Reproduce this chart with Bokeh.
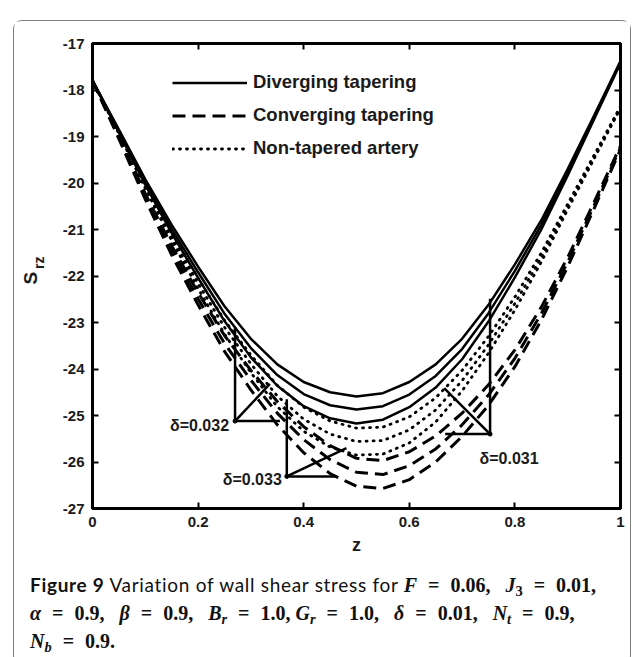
import math

from bokeh.plotting import figure
from bokeh.models import (FixedTicker, LinearAxis, Legend, LegendItem,
                          Div, Range1d, ColumnDataSource)
from bokeh.layouts import column, row
from bokeh.embed import file_html
from bokeh.resources import INLINE
from bokeh.core.properties import value

# ---- data -------------------------------------------------------------
z_vals = [0.0, 0.05, 0.1, 0.15, 0.2, 0.25, 0.3, 0.35, 0.4, 0.45, 0.5,
          0.55, 0.6, 0.65, 0.7, 0.75, 0.8, 0.85, 0.9, 0.95, 1.0]

# diverging tapering (solid)
div_031 = [-17.80, -18.85, -19.92, -20.90, -21.80, -22.65, -23.35, -23.90, -24.28, -24.50, -24.59,
           -24.52, -24.28, -23.90, -23.35, -22.62, -21.75, -20.80, -19.70, -18.55, -17.38]
div_032 = [-17.80, -18.88, -19.98, -20.99, -21.92, -22.81, -23.55, -24.13, -24.54, -24.78, -24.87,
           -24.80, -24.55, -24.15, -23.57, -22.80, -21.89, -20.90, -19.77, -18.59, -17.40]
div_033 = [-17.80, -18.91, -20.04, -21.08, -22.04, -22.97, -23.75, -24.36, -24.80, -25.06, -25.17,
           -25.09, -24.82, -24.40, -23.79, -22.98, -22.03, -21.00, -19.84, -18.63, -17.42]

# non-tapered artery (dotted)
non_031 = [-17.80, -18.90, -20.02, -21.08, -22.05, -22.95, -23.70, -24.35, -24.82, -25.12, -25.27,
           -25.25, -25.03, -24.62, -24.03, -23.30, -22.45, -21.50, -20.45, -19.40, -18.35]
non_032 = [-17.80, -18.92, -20.07, -21.16, -22.16, -23.10, -23.89, -24.58, -25.08, -25.40, -25.56,
           -25.54, -25.31, -24.88, -24.25, -23.48, -22.59, -21.60, -20.51, -19.44, -18.37]
non_033 = [-17.80, -18.94, -20.12, -21.24, -22.27, -23.25, -24.08, -24.81, -25.34, -25.68, -25.85,
           -25.83, -25.59, -25.14, -24.47, -23.66, -22.73, -21.70, -20.57, -19.48, -18.39]

# converging tapering (dashed)
con_031 = [-17.80, -18.99, -20.23, -21.35, -22.36, -23.28, -24.03, -24.70, -25.24, -25.65, -25.92,
           -25.97, -25.78, -25.44, -24.95, -24.34, -23.59, -22.67, -21.60, -20.41, -19.20]
con_032 = [-17.80, -19.02, -20.29, -21.45, -22.49, -23.45, -24.24, -24.95, -25.52, -25.95, -26.22,
           -26.27, -26.08, -25.72, -25.20, -24.56, -23.77, -22.81, -21.70, -20.48, -19.24]
con_033 = [-17.80, -19.05, -20.35, -21.55, -22.62, -23.62, -24.45, -25.20, -25.80, -26.25, -26.52,
           -26.57, -26.38, -26.00, -25.45, -24.78, -23.95, -22.95, -21.80, -20.55, -19.28]

series_names = ["Diverging tapering", "Converging tapering", "Non-tapered artery"]

x_ticks = [0, 0.2, 0.4, 0.6, 0.8, 1]
x_tick_labels = ["0", "0.2", "0.4", "0.6", "0.8", "1"]
y_ticks = [-27, -26, -25, -24, -23, -22, -21, -20, -19, -18, -17]
y_tick_labels = ["-27", "-26", "-25", "-24", "-23", "-22", "-21", "-20", "-19", "-18", "-17"]

# delta call-outs: anchor point, end on solid band, end on dotted band, end on dashed band
delta_text = ["δ=0.031", "δ=0.032", "δ=0.033"]
anchor_z = [0.753, 0.270, 0.368]
anchor_s = [-25.40, -25.12, -26.31]
solid_end_s = [-22.49, -23.11, -24.65]
dotted_end_z = [0.666, 0.336, 0.481]
dotted_end_s = [-24.41, -24.32, -25.70]
dashed_end_z = [0.668, 0.355, 0.462]

FONT = "Liberation Sans"
INK = "#1a1a1a"

# ---- y-axis title strip (S with subscript rz, rotated) ----------------
STRIP_W = 36
ylab = figure(width=STRIP_W, height=545, x_range=Range1d(0, STRIP_W), y_range=Range1d(0, 545),
              output_backend="svg", toolbar_location=None, title=None,
              x_axis_type=None, y_axis_type=None, min_border=0)
ylab.grid.visible = False
ylab.outline_line_color = None
ylab.text(x=[16], y=[270], text=["S"], angle=math.pi / 2, text_align="center",
          text_baseline="middle", text_font=value(FONT), text_font_style="bold",
          text_font_size="19px", text_color=INK)
ylab.text(x=[24], y=[288], text=["rz"], angle=math.pi / 2, text_align="center",
          text_baseline="middle", text_font=value(FONT), text_font_style="bold",
          text_font_size="14px", text_color=INK)

# ---- main figure ------------------------------------------------------
p = figure(width=616 - STRIP_W, height=545, x_range=Range1d(0, 1), y_range=Range1d(-27, -17),
           output_backend="svg", toolbar_location=None,
           min_border_left=78 - STRIP_W, min_border_right=10, min_border_top=22,
           min_border_bottom=58)
p.grid.visible = False
p.outline_line_color = "black"
p.outline_line_width = 3
p.background_fill_color = "white"
p.border_fill_color = "white"


def style_axis(ax, labels_on):
    ax.axis_line_width = 3
    ax.axis_line_color = "black"
    ax.major_tick_in = 6
    ax.major_tick_out = 0
    ax.major_tick_line_width = 2
    ax.minor_tick_line_color = None
    ax.major_label_text_font = FONT
    ax.major_label_text_font_style = "bold"
    ax.major_label_text_font_size = "15px" if labels_on else "1px"
    ax.major_label_text_color = INK
    ax.major_label_standoff = 8


p.xaxis.ticker = FixedTicker(ticks=x_ticks)
p.xaxis.major_label_overrides = dict(zip(x_ticks, x_tick_labels))
p.yaxis.ticker = FixedTicker(ticks=y_ticks)
p.yaxis.major_label_overrides = {t: l for t, l in zip(y_ticks, y_tick_labels)}
style_axis(p.xaxis[0], True)
style_axis(p.yaxis[0], True)
p.xaxis.axis_label = "z"
p.xaxis.axis_label_text_font = FONT
p.xaxis.axis_label_text_font_style = "bold"
p.xaxis.axis_label_text_font_size = "18px"
p.xaxis.axis_label_text_color = INK
p.xaxis.axis_label_standoff = 5

top_ax = LinearAxis(ticker=FixedTicker(ticks=x_ticks),
                    major_label_overrides={t: "" for t in x_ticks})
right_ax = LinearAxis(ticker=FixedTicker(ticks=y_ticks),
                      major_label_overrides={t: "" for t in y_ticks})
style_axis(top_ax, False)
style_axis(right_ax, False)
p.add_layout(top_ax, "above")
p.add_layout(right_ax, "right")

# curves
solid = [p.line(z_vals, s, line_color="black", line_width=2.5)
         for s in (div_031, div_032, div_033)]
dotted = [p.line(z_vals, s, line_color="black", line_width=2.8, line_dash="1 6",
                 line_cap="round") for s in (non_031, non_032, non_033)]
dashed = [p.line(z_vals, s, line_color="black", line_width=3, line_dash="13 7")
          for s in (con_031, con_032, con_033)]

# call-out pointers
ptr = dict(line_color="black", line_width=2.5)
p.segment(x0=anchor_z, y0=anchor_s, x1=anchor_z, y1=solid_end_s, **ptr)
p.segment(x0=anchor_z, y0=anchor_s, x1=dotted_end_z, y1=dotted_end_s, **ptr)
p.segment(x0=anchor_z, y0=anchor_s, x1=dashed_end_z, y1=anchor_s, **ptr)
p.scatter(anchor_z, anchor_s, size=4, color="black")

lbl_src = ColumnDataSource(dict(x=anchor_z, y=anchor_s, t=delta_text,
                                align=["center", "right", "right"],
                                dx=[19, -6, -5], dy=[24, 4, 3]))
p.text(x="x", y="y", text="t", source=lbl_src, text_align="align", text_baseline="middle",
       x_offset="dx", y_offset="dy", text_font=value(FONT), text_font_style="bold",
       text_font_size="16px", text_color=INK)

legend = Legend(items=[LegendItem(label=series_names[0], renderers=[solid[0]]),
                       LegendItem(label=series_names[1], renderers=[dashed[0]]),
                       LegendItem(label=series_names[2], renderers=[dotted[0]])],
                location=(80, 349), glyph_width=75, glyph_height=21, label_height=21,
                label_width=170, spacing=11, padding=0, margin=0, label_standoff=6,
                border_line_color=None, background_fill_alpha=0,
                label_text_font=FONT, label_text_font_style="bold",
                label_text_font_size="18.5px", label_text_color=INK)
p.add_layout(legend)

# ---- caption ----------------------------------------------------------
sub = '<span style="font-size:0.72em;vertical-align:-0.28em;line-height:0">{}</span>'
eq = '<span style="margin:0 11px">=</span>'
m_open = '<span style="font-family:\'Liberation Serif\';font-weight:bold;font-size:20px;letter-spacing:0">'
m_close = '</span>'
gap = "&nbsp;&nbsp;&nbsp;"


def var(s):
    return "<i>" + s + "</i>"


line1 = ('<b>Figure 9</b> Variation of wall shear stress for ' + m_open +
         var("F") + eq + "0.06," + gap + var("J") + sub.format("3") + eq + "0.01," + m_close)
line2 = (m_open + var("α") + eq + "0.9," + gap + var("β") + eq + "0.9," + gap +
         var("B" + sub.format("r")) + eq + "1.0, " + var("G" + sub.format("r")) + eq + "1.0," + gap +
         var("δ") + eq + "0.01," + gap + var("N" + sub.format("t")) + eq + "0.9," + m_close)
line3 = m_open + var("N" + sub.format("b")) + eq + "0.9." + m_close

cap = Div(text=line1 + "<br>" + line2 + "<br>" + line3, width=600, height=88,
          styles={"font-family": "Lato", "font-size": "19px", "line-height": "27px",
                  "letter-spacing": "0.7px", "white-space": "nowrap", "color": "#111111",
                  "padding-left": "11px", "padding-top": "0px"})

page = column(row(ylab, p), cap, margin=(20, 0, 0, 13),
              styles={"border": "1.5px solid #808080", "border-radius": "9px",
                      "background": "white"})

open("out.html", "w").write(file_html(page, INLINE))
